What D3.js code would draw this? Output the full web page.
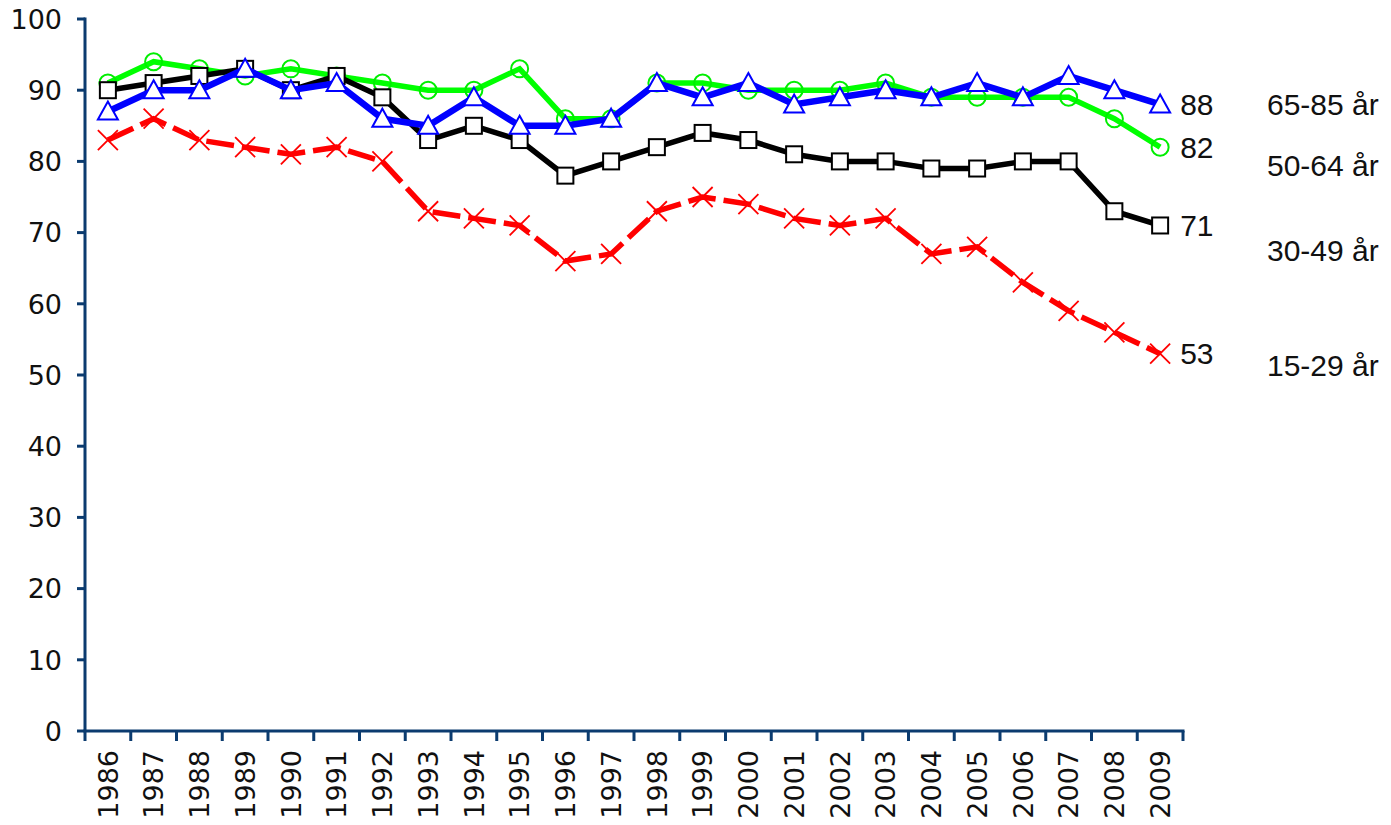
<!DOCTYPE html>
<html><head><meta charset="utf-8">
<script src="https://cdn.jsdelivr.net/npm/d3@7"></script>
<style>
html,body{margin:0;padding:0;background:#fff;}
svg{display:block;}
</style></head>
<body>
<svg id="chart" width="1391" height="825"></svg>
<script>
const years = ["1986","1987","1988","1989","1990","1991","1992","1993","1994","1995","1996","1997","1998","1999","2000","2001","2002","2003","2004","2005","2006","2007","2008","2009"];
const yTicks = [0,10,20,30,40,50,60,70,80,90,100];
const age15_29 = [83,86,83,82,81,82,80,73,72,71,66,67,73,75,74,72,71,72,67,68,63,59,56,53];
const age30_49 = [90,91,92,93,90,92,89,83,85,83,78,80,82,84,83,81,80,80,79,79,80,80,73,71];
const age50_64 = [91,94,93,92,93,92,91,90,90,93,86,86,91,91,90,90,90,91,89,89,89,89,86,82];
const age65_85 = [87,90,90,93,90,91,86,85,89,85,85,86,91,89,91,88,89,90,89,91,89,92,90,88];
const seriesNames = ["15-29 år","30-49 år","50-64 år","65-85 år"];

(function(){
const svg = d3.select("#chart");
const mLeft = 85, mRight = 1183, mTop = 19, mBottom = 731;
const axisColor = "#0b3b6f";

const x = d3.scaleBand().domain(years).range([mLeft, mRight]);
const y = d3.scaleLinear().domain([0,100]).range([mBottom, mTop]);

// axes
const g = svg.append("g");
g.append("line").attr("x1",mLeft).attr("x2",mLeft).attr("y1",y(100)-1.5).attr("y2",mBottom)
  .attr("stroke",axisColor).attr("stroke-width",3);
g.append("line").attr("x1",mLeft-1.5).attr("x2",mRight+1.5).attr("y1",mBottom).attr("y2",mBottom)
  .attr("stroke",axisColor).attr("stroke-width",3);
g.selectAll(".yt").data(yTicks).enter().append("line")
  .attr("x1",mLeft-8).attr("x2",mLeft).attr("y1",d=>y(d)).attr("y2",d=>y(d))
  .attr("stroke",axisColor).attr("stroke-width",3);
g.selectAll(".ytl").data(yTicks).enter().append("text")
  .attr("x",62).attr("y",d=>y(d)).attr("dy","0.36em").attr("text-anchor","end")
  .attr("font-family","DejaVu Sans").attr("font-size",27).attr("fill","#111")
  .text(d=>d);
const edges = years.map(d=>x(d)).concat([mRight]);
g.selectAll(".xt").data(edges).enter().append("line")
  .attr("x1",d=>d).attr("x2",d=>d).attr("y1",mBottom).attr("y2",mBottom+10)
  .attr("stroke",axisColor).attr("stroke-width",3);
g.selectAll(".xtl").data(years).enter().append("text")
  .attr("transform",d=>`translate(${x(d)+x.bandwidth()/2},${mBottom+19}) rotate(-90)`)
  .attr("dy","0.36em").attr("text-anchor","end")
  .attr("font-family","DejaVu Sans").attr("font-size",27).attr("fill","#111")
  .text(d=>d);

const cx = d=>x(d.year)+x.bandwidth()/2;
function pts(arr){ return arr.map((v,i)=>({year:years[i], v})); }
const line = d3.line().x(cx).y(d=>y(d.v));

// 15-29 red dashed with crosses
const red = pts(age15_29);
svg.append("path").datum(red).attr("d",line).attr("fill","none")
  .attr("stroke","#ff0000").attr("stroke-width",5.5).attr("stroke-dasharray","28,8");
svg.selectAll(".cross").data(red).enter().append("path")
  .attr("d",d=>{const X=cx(d),Y=y(d.v),s=10;return `M${X-s},${Y-s}L${X+s},${Y+s}M${X-s},${Y+s}L${X+s},${Y-s}`;})
  .attr("stroke","#ff0000").attr("stroke-width",1.8).attr("fill","none");

// 50-64 green with open circles
const green = pts(age50_64);
svg.append("path").datum(green).attr("d",line).attr("fill","none")
  .attr("stroke","#00ff00").attr("stroke-width",5.5);
svg.selectAll(".circ").data(green).enter().append("circle")
  .attr("cx",cx).attr("cy",d=>y(d.v)).attr("r",8.5)
  .attr("fill","none").attr("stroke","#00ee00").attr("stroke-width",2);

// 30-49 black with squares
const black = pts(age30_49);
svg.append("path").datum(black).attr("d",line).attr("fill","none")
  .attr("stroke","#000").attr("stroke-width",5.5);
svg.selectAll(".sq").data(black).enter().append("rect")
  .attr("x",d=>cx(d)-8).attr("y",d=>y(d.v)-8).attr("width",16).attr("height",16)
  .attr("fill","#fff").attr("stroke","#000").attr("stroke-width",2);

// 65-85 blue with triangles
const blue = pts(age65_85);
svg.append("path").datum(blue).attr("d",line).attr("fill","none")
  .attr("stroke","#0000ff").attr("stroke-width",6.5);
svg.selectAll(".tri").data(blue).enter().append("path")
  .attr("d",d=>{const X=cx(d),Y=y(d.v);return `M${X},${Y-10}L${X+10},${Y+8}L${X-10},${Y+8}Z`;})
  .attr("fill","#fff").attr("stroke","#0000ff").attr("stroke-width",2);

// end value labels
const ends = [age65_85, age50_64, age30_49, age15_29];
svg.selectAll(".endl").data(ends).enter().append("text")
  .attr("x",cx({year:years[years.length-1]})+20)
  .attr("y",d=>y(d[d.length-1])).attr("dy","0.36em")
  .attr("font-family","Liberation Sans").attr("font-size",30).attr("fill","#111")
  .text(d=>d[d.length-1]);

// series name labels
const nameY = [365,250,165,104];
svg.selectAll(".name").data(seriesNames).enter().append("text")
  .attr("x",1267).attr("y",(d,i)=>nameY[i]).attr("dy","0.36em")
  .attr("font-family","Liberation Sans").attr("font-size",30).attr("fill","#111")
  .text(d=>d);
})();
</script>
</body></html>
